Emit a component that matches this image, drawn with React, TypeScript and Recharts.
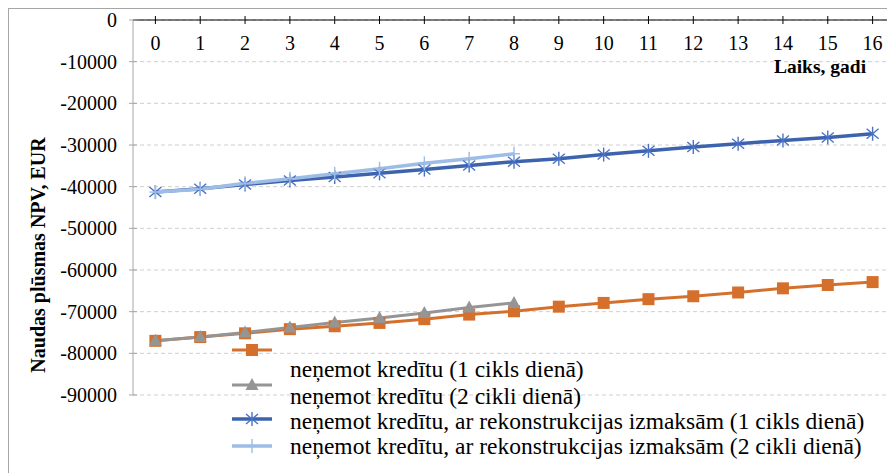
import {
  CartesianGrid,
  Legend,
  Line,
  LineChart,
  XAxis,
  YAxis,
} from "recharts";

const years = ["0", "1", "2", "3", "4", "5", "6", "7", "8", "9", "10", "11", "12", "13", "14", "15", "16"];
const yTicks = [0, -10000, -20000, -30000, -40000, -50000, -60000, -70000, -80000, -90000];

// NPV, EUR
const npv1 = [-77000, -76100, -75200, -74200, -73500, -72700, -71800, -70700, -69900, -68800, -67900, -67000, -66300, -65400, -64400, -63600, -62900];
const npv2 = [-77000, -76100, -75000, -73800, -72600, -71500, -70300, -69000, -67900];
const npvRec1 = [-41300, -40500, -39500, -38500, -37700, -36800, -35900, -34900, -34000, -33300, -32300, -31400, -30500, -29700, -28900, -28200, -27300];
const npvRec2 = [-41300, -40600, -39200, -38100, -36900, -35700, -34400, -33300, -32100];

const names = [
  "neņemot kredītu (1 cikls dienā)",
  "neņemot kredītu (2 cikli dienā)",
  "neņemot kredītu, ar rekonstrukcijas izmaksām (1 cikls dienā)",
  "neņemot kredītu, ar rekonstrukcijas izmaksām (2 cikli dienā)",
];

const data = years.map((y, i) => ({
  year: y,
  a: npv1[i],
  b: i < npv2.length ? npv2[i] : null,
  c: npvRec1[i],
  d: i < npvRec2.length ? npvRec2[i] : null,
}));

const FONT = '"Liberation Serif", "Times New Roman", serif';
const ORANGE = "#d5702c";
const GRAY = "#959595";
const BLUE = "#3e63ae";
const LIGHT = "#9dbde6";

function Marker({ kind, cx, cy }: { kind: string; cx: number; cy: number }) {
  if (kind === "square")
    return <rect x={cx - 6} y={cy - 6} width={12} height={12} fill={ORANGE} />;
  if (kind === "triangle")
    return <polygon points={`${cx},${cy - 7} ${cx + 6.5},${cy + 5} ${cx - 6.5},${cy + 5}`} fill={GRAY} />;
  if (kind === "star")
    return (
      <g stroke="#4a72c4" strokeWidth={1.4}>
        <line x1={cx} y1={cy - 7} x2={cx} y2={cy + 7} />
        <line x1={cx - 6} y1={cy - 5} x2={cx + 6} y2={cy + 5} />
        <line x1={cx - 6} y1={cy + 5} x2={cx + 6} y2={cy - 5} />
      </g>
    );
  return (
    <g stroke={LIGHT} strokeWidth={1.4}>
      <line x1={cx} y1={cy - 7} x2={cx} y2={cy + 7} />
      <line x1={cx - 6} y1={cy} x2={cx + 6} y2={cy} />
    </g>
  );
}

const dot = (kind: string) => (p: any) => {
  if (p.cx == null || p.cy == null || p.value == null) return <g key={p.key} />;
  return (
    <g key={p.key}>
      <Marker kind={kind} cx={p.cx} cy={p.cy} />
    </g>
  );
};

const legendRows = [
  { kind: "square", color: ORANGE, sy: 341, ty: 360, w: 3 },
  { kind: "triangle", color: GRAY, sy: 376, ty: 387, w: 3 },
  { kind: "star", color: BLUE, sy: 410, ty: 412, w: 3.5 },
  { kind: "plus", color: LIGHT, sy: 437, ty: 437, w: 3.5 },
];

function LegendBox() {
  return (
    <svg width={886} height={455} style={{ position: "absolute", left: 0, top: 0 }}>
      {legendRows.map((r, i) => (
        <g key={i}>
          <line x1={223} x2={263} y1={r.sy} y2={r.sy} stroke={r.color} strokeWidth={r.w} />
          <Marker kind={r.kind} cx={243} cy={r.sy} />
          <text x={281} y={r.ty} dominantBaseline="central" fontFamily={FONT} fontSize={23.5} fill="#000">
            {names[i]}
          </text>
        </g>
      ))}
    </svg>
  );
}

function XTick(props: any) {
  const { x, y, payload } = props;
  return (
    <g>
      <line x1={x} x2={x} y1={y - 4} y2={y + 4} stroke="#000" />
      <text x={x} y={y + 23} textAnchor="middle" dominantBaseline="central" fontFamily={FONT} fontSize={20} fill="#000">
        {payload.value}
      </text>
    </g>
  );
}

function YTick(props: any) {
  const { x, y, payload } = props;
  return (
    <g>
      <line x1={x + 12} x2={x + 20} y1={y} y2={y} stroke="#a6a6a6" />
      <text x={x} y={y} textAnchor="end" dominantBaseline="central" fontFamily={FONT} fontSize={20} fill="#000">
        {payload.value}
      </text>
    </g>
  );
}

export default function App() {
  return (
    <div style={{ width: 886, height: 464, borderTop: "1px solid #a6a6a6", borderLeft: "1px solid #a6a6a6", position: "relative", fontFamily: FONT }}>
      <LineChart width={886} height={455} data={data} margin={{ top: 10, right: 0, bottom: 69, left: 0 }}>
        <CartesianGrid vertical={false} stroke="#cfcfcf" strokeDasharray="4 3" />
        <XAxis
          dataKey="year"
          orientation="top"
          height={1}
          tickSize={0}
          tickMargin={0}
          tickLine={false}
          tick={<XTick />}
          stroke="#000"
          interval={0}
          padding={{ left: 22.4, right: 22.4 }}
          label={{
            content: (lp: any) => (
              <text
                x={lp.viewBox.x + lp.viewBox.width - 75}
                y={lp.viewBox.y + 47}
                textAnchor="middle"
                dominantBaseline="central"
                fontFamily={FONT}
                fontWeight="bold"
                fontSize={19.5}
                fill="#000"
              >
                Laiks, gadi
              </text>
            ),
          }}
        />
        <YAxis
          domain={[-90000, 0]}
          ticks={yTicks}
          interval={0}
          width={124}
          stroke="#a6a6a6"
          tickLine={false}
          tickSize={0}
          tickMargin={16}
          tick={<YTick />}
          label={{
            content: () => (
              <text
                x={29}
                y={246}
                transform={`rotate(-90 29 246)`}
                textAnchor="middle"
                dominantBaseline="central"
                fontFamily={FONT}
                fontWeight="bold"
                fontSize={20}
                fill="#000"
              >
                Naudas plūsmas NPV, EUR
              </text>
            ),
          }}
        />
        <Line dataKey="a" name={names[0]} stroke={ORANGE} strokeWidth={3} dot={dot("square")} isAnimationActive={false} />
        <Line dataKey="b" name={names[1]} stroke={GRAY} strokeWidth={3} dot={dot("triangle")} isAnimationActive={false} />
        <Line dataKey="c" name={names[2]} stroke={BLUE} strokeWidth={3.5} dot={dot("star")} isAnimationActive={false} />
        <Line dataKey="d" name={names[3]} stroke={LIGHT} strokeWidth={3.5} dot={dot("plus")} isAnimationActive={false} />
        <Legend
          layout="horizontal"
          verticalAlign="middle"
          align="center"
          wrapperStyle={{ position: "absolute", left: 0, top: 0, width: 886, height: 455, pointerEvents: "none" }}
          content={() => <LegendBox />}
        />
      </LineChart>
    </div>
  );
}
